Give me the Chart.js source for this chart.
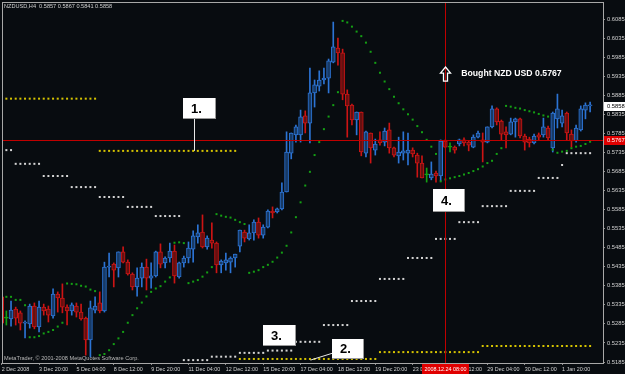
<!DOCTYPE html>
<html>
<head>
<meta charset="utf-8">
<title>NZDUSD,H4</title>
<script src="https://cdn.jsdelivr.net/npm/chart.js@4.4.1/dist/chart.umd.min.js"></script>
<style>
  html, body { margin: 0; padding: 0; background: #080c10; }
  canvas { display: block; }
</style>
</head>
<body>
<canvas id="grafico" width="625" height="374"></canvas>
<script>
const priceTicks = [0.5185, 0.5235, 0.5285, 0.5335, 0.5385, 0.5435, 0.5485, 0.5535, 0.5585, 0.5635,
  0.5685, 0.5735, 0.5785, 0.5835, 0.5885, 0.5935, 0.5985, 0.6035, 0.6085];
const timeTickBars = [0, 8, 16, 24, 32, 40, 48, 56, 64, 72, 80, 88, 96, 104, 112, 120];
const timeLabels = ["2 Dec 2008", "3 Dec 20:00", "5 Dec 04:00", "8 Dec 12:00", "9 Dec 20:00", "11 Dec 04:00",
  "12 Dec 12:00", "15 Dec 20:00", "17 Dec 04:00", "18 Dec 12:00", "19 Dec 20:00", "23 Dec 04:00",
  "24 Dec 12:00", "29 Dec 04:00", "30 Dec 12:00", "1 Jan 20:00"];

// velas H4, una por barra
const open = [
  0.5356, 0.5300, 0.5298, 0.5324, 0.5314, 0.5287, 0.5285, 0.5332, 0.5277, 0.5329,
  0.5324, 0.5306, 0.5363, 0.5353, 0.5329, 0.5319, 0.5332, 0.5316, 0.5300, 0.5243,
  0.5321, 0.5340, 0.5319, 0.5434, 0.5442, 0.5432, 0.5474, 0.5447, 0.5416, 0.5382,
  0.5405, 0.5434, 0.5405, 0.5411, 0.5474, 0.5445, 0.5458, 0.5476, 0.5408, 0.5445,
  0.5458, 0.5481, 0.5513, 0.5526, 0.5487, 0.5505, 0.5497, 0.5440, 0.5445, 0.5447,
  0.5458, 0.5489, 0.5526, 0.5508, 0.5524, 0.5552, 0.5518, 0.5539, 0.5581, 0.5579,
  0.5587, 0.5631, 0.5733, 0.5781, 0.5781, 0.5831, 0.5812, 0.5891, 0.5909, 0.5925,
  0.5930, 0.5972, 0.6009, 0.5996, 0.5888, 0.5859, 0.5820, 0.5841, 0.5733, 0.5786,
  0.5741, 0.5768, 0.5762, 0.5794, 0.5747, 0.5726, 0.5733, 0.5733, 0.5741, 0.5728,
  0.5707, 0.5676, 0.5668, 0.5681, 0.5673, 0.5765, 0.5749, 0.5749, 0.5757, 0.5768,
  0.5762, 0.5749, 0.5775, 0.5768, 0.5762, 0.5802, 0.5849, 0.5817, 0.5789, 0.5783,
  0.5815, 0.5823, 0.5778, 0.5770, 0.5760, 0.5781, 0.5781, 0.5799, 0.5747, 0.5823,
  0.5812, 0.5838, 0.5783, 0.5765, 0.5794, 0.5846, 0.5857
];
const high = [
  0.5358, 0.5319, 0.5345, 0.5329, 0.5319, 0.5293, 0.5337, 0.5340, 0.5345, 0.5337,
  0.5332, 0.5377, 0.5369, 0.5390, 0.5335, 0.5340, 0.5340, 0.5337, 0.5303, 0.5345,
  0.5356, 0.5369, 0.5447, 0.5471, 0.5445, 0.5474, 0.5487, 0.5453, 0.5419, 0.5432,
  0.5445, 0.5455, 0.5445, 0.5476, 0.5495, 0.5461, 0.5497, 0.5492, 0.5447, 0.5463,
  0.5500, 0.5529, 0.5545, 0.5571, 0.5516, 0.5550, 0.5500, 0.5453, 0.5471, 0.5461,
  0.5468, 0.5531, 0.5531, 0.5545, 0.5558, 0.5563, 0.5545, 0.5584, 0.5592, 0.5589,
  0.5655, 0.5789, 0.5786, 0.5807, 0.5846, 0.5844, 0.5956, 0.5925, 0.5949, 0.5956,
  0.5980, 0.6077, 0.6035, 0.6006, 0.5899, 0.5862, 0.5841, 0.5841, 0.5791, 0.5786,
  0.5770, 0.5789, 0.5799, 0.5812, 0.5749, 0.5775, 0.5789, 0.5786, 0.5747, 0.5733,
  0.5726, 0.5694, 0.5710, 0.5686, 0.5768, 0.5768, 0.5760, 0.5752, 0.5770, 0.5773,
  0.5765, 0.5781, 0.5791, 0.5786, 0.5802, 0.5857, 0.5852, 0.5820, 0.5802, 0.5825,
  0.5825, 0.5825, 0.5783, 0.5775, 0.5783, 0.5786, 0.5825, 0.5804, 0.5841, 0.5888,
  0.5846, 0.5841, 0.5794, 0.5807, 0.5857, 0.5865, 0.5867
];
const low = [
  0.5279, 0.5282, 0.5279, 0.5282, 0.5269, 0.5248, 0.5274, 0.5272, 0.5264, 0.5308,
  0.5290, 0.5300, 0.5316, 0.5314, 0.5282, 0.5308, 0.5303, 0.5295, 0.5203, 0.5198,
  0.5314, 0.5314, 0.5316, 0.5408, 0.5382, 0.5408, 0.5445, 0.5413, 0.5374, 0.5358,
  0.5382, 0.5374, 0.5379, 0.5408, 0.5432, 0.5432, 0.5447, 0.5392, 0.5405, 0.5434,
  0.5445, 0.5447, 0.5497, 0.5484, 0.5481, 0.5484, 0.5419, 0.5419, 0.5426, 0.5419,
  0.5434, 0.5474, 0.5500, 0.5505, 0.5505, 0.5510, 0.5510, 0.5537, 0.5563, 0.5576,
  0.5584, 0.5631, 0.5718, 0.5762, 0.5762, 0.5786, 0.5760, 0.5854, 0.5896, 0.5915,
  0.5891, 0.5970, 0.5964, 0.5873, 0.5775, 0.5807, 0.5781, 0.5726, 0.5723, 0.5707,
  0.5728, 0.5754, 0.5752, 0.5733, 0.5723, 0.5707, 0.5715, 0.5702, 0.5723, 0.5670,
  0.5668, 0.5657, 0.5663, 0.5657, 0.5660, 0.5747, 0.5736, 0.5733, 0.5752, 0.5752,
  0.5739, 0.5747, 0.5773, 0.5710, 0.5760, 0.5799, 0.5807, 0.5768, 0.5747, 0.5781,
  0.5775, 0.5773, 0.5741, 0.5749, 0.5757, 0.5768, 0.5775, 0.5768, 0.5736, 0.5799,
  0.5802, 0.5768, 0.5749, 0.5762, 0.5791, 0.5823, 0.5841
];
const close = [
  0.5287, 0.5300, 0.5321, 0.5300, 0.5287, 0.5290, 0.5332, 0.5277, 0.5329, 0.5319,
  0.5308, 0.5363, 0.5353, 0.5329, 0.5319, 0.5335, 0.5316, 0.5298, 0.5243, 0.5327,
  0.5332, 0.5319, 0.5434, 0.5437, 0.5426, 0.5474, 0.5447, 0.5416, 0.5382, 0.5405,
  0.5434, 0.5405, 0.5411, 0.5474, 0.5442, 0.5458, 0.5476, 0.5411, 0.5445, 0.5458,
  0.5484, 0.5516, 0.5524, 0.5487, 0.5510, 0.5497, 0.5440, 0.5450, 0.5453, 0.5458,
  0.5468, 0.5531, 0.5510, 0.5524, 0.5552, 0.5518, 0.5539, 0.5581, 0.5576, 0.5587,
  0.5631, 0.5736, 0.5786, 0.5802, 0.5828, 0.5812, 0.5891, 0.5912, 0.5925, 0.5930,
  0.5975, 0.6012, 0.5996, 0.5888, 0.5857, 0.5820, 0.5841, 0.5736, 0.5789, 0.5747,
  0.5757, 0.5760, 0.5791, 0.5747, 0.5728, 0.5736, 0.5739, 0.5741, 0.5731, 0.5707,
  0.5668, 0.5676, 0.5678, 0.5673, 0.5765, 0.5749, 0.5749, 0.5741, 0.5768, 0.5760,
  0.5754, 0.5775, 0.5786, 0.5762, 0.5802, 0.5849, 0.5815, 0.5783, 0.5781, 0.5815,
  0.5823, 0.5778, 0.5762, 0.5760, 0.5778, 0.5775, 0.5802, 0.5773, 0.5838, 0.5849,
  0.5831, 0.5786, 0.5765, 0.5799, 0.5849, 0.5859, 0.5858
];

// Parabolic SAR
const sar = [
  0.5372, 0.5356, 0.5356, 0.5348, 0.5348, 0.5334, 0.5250, 0.5250, 0.5253, 0.5260,
  0.5264, 0.5269, 0.5278, 0.5288, 0.5391, 0.5390, 0.5389, 0.5385, 0.5383, 0.5375,
  0.5371, 0.5203, 0.5206, 0.5216, 0.5232, 0.5247, 0.5264, 0.5288, 0.5308, 0.5326,
  0.5341, 0.5357, 0.5369, 0.5378, 0.5384, 0.5396, 0.5407, 0.5498, 0.5499, 0.5497,
  0.5392, 0.5396, 0.5400, 0.5409, 0.5420, 0.5434, 0.5573, 0.5569, 0.5566, 0.5564,
  0.5558, 0.5552, 0.5547, 0.5419, 0.5422, 0.5426, 0.5434, 0.5440, 0.5448, 0.5459,
  0.5472, 0.5490, 0.5525, 0.5565, 0.5604, 0.5648, 0.5684, 0.5728, 0.5762, 0.5796,
  0.5829, 0.5859, 0.5893, 0.6080, 0.6076, 0.6065, 0.6052, 0.6040, 0.6023, 0.5999,
  0.5970, 0.5944, 0.5921, 0.5901, 0.5881, 0.5864, 0.5848, 0.5835, 0.5821, 0.5804,
  0.5788, 0.5768, 0.5750, 0.5731, 0.5659, 0.5664, 0.5667, 0.5670, 0.5673, 0.5677,
  0.5681, 0.5686, 0.5691, 0.5698, 0.5707, 0.5713, 0.5731, 0.5746, 0.5857, 0.5855,
  0.5852, 0.5850, 0.5846, 0.5843, 0.5840, 0.5836, 0.5832, 0.5829, 0.5742, 0.5734,
  0.5737, 0.5739, 0.5746, 0.5750, 0.5752, 0.5757, 0.5763
];

// niveles diarios (puntos blancos) y semanales (puntos amarillos)
const dayFirst = [0, 3, 9, 15, 21, 27, 33, 39, 45, 51, 57, 63, 69, 75, 81, 87, 93, 98, 103, 109, 115, 120, 121];
const dayLast = [2, 8, 14, 20, 26, 32, 38, 44, 50, 56, 62, 68, 74, 80, 86, 92, 97, 102, 108, 114, 119, 120, 126];
const dayLevel = [0.5741, 0.5705, 0.5673, 0.5644, 0.5618, 0.5592, 0.5568, 0.5190, 0.5199, 0.5209, 0.5215,
  0.5238, 0.5282, 0.5345, 0.5403, 0.5458, 0.5508, 0.5552, 0.5594, 0.5634, 0.5668, 0.5702, 0.5733];
const weekFirst = [0, 21, 51, 81, 103];
const weekLast = [20, 50, 80, 102, 126];
const weekLevel = [0.5876, 0.5739, 0.5193, 0.5211, 0.5227];

const entryPrice = 0.5767;
const entryBar = 95;
const lastPrice = 0.5858;

// rango visible de la ventana
const xMin = 0.28, xMax = 128.76;
const yMin = 0.51824, yMax = 0.6127;

// cajas de texto puestas sobre el grafico (barra, precio)
const notas = [
  { texto: "1.", b0: 38.8, b1: 45.9, p0: 0.5878, p1: 0.5823 },
  { texto: "2.", b0: 70.7, b1: 77.6, p0: 0.5245, p1: 0.5193 },
  { texto: "3.", b0: 55.95, b1: 63.0, p0: 0.5282, p1: 0.5227 },
  { texto: "4.", b0: 92.4, b1: 99.2, p0: 0.5639, p1: 0.5579 }
];
const guias = [
  { b0: 41.2, p0: 0.5823, b1: 41.2, p1: 0.5739 },
  { b0: 71.0, p0: 0.5209, b1: 66.0, p1: 0.5190 }
];

const fuente = '"Liberation Sans", Arial, sans-serif';

function colorVela(i, borde) {
  if (close[i] > open[i]) return borde ? "#2c74d4" : "#173a66";
  if (close[i] < open[i]) return borde ? "#cc1414" : "#661010";
  return "#12a012";
}

function escalones(first, last, level) {
  const pts = [];
  level.forEach((v, k) => {
    for (let i = first[k]; i <= last[k]; i++) pts.push({ x: i, y: v });
  });
  return pts;
}

const cuerpos = open.map((o, i) => ({ x: i, y: [o, close[i]] }));
const mechas = low.map((l, i) => ({ x: i, y: [l, high[i]] }));
const puntosSar = sar.map((v, i) => ({ x: i, y: v }));

function puntos(data, color) {
  return {
    type: "line",
    data,
    showLine: false,
    pointStyle: "rect",
    pointRadius: 1.42,
    pointBorderWidth: 0,
    pointBackgroundColor: color
  };
}

const extras = {
  id: "extras",
  beforeDraw(chart) {
    const { ctx, width, height } = chart;
    ctx.save();
    ctx.fillStyle = "#080c10";
    ctx.fillRect(0, 0, width, height);
    ctx.restore();
  },
  afterDatasetsDraw(chart) {
    const { ctx, chartArea: a, scales: { x, y } } = chart;
    ctx.save();
    ctx.beginPath();
    ctx.rect(a.left, a.top, a.width, a.height);
    ctx.clip();

    // linea de entrada y linea vertical
    ctx.strokeStyle = "#c00000";
    ctx.lineWidth = 1;
    const yl = Math.round(y.getPixelForValue(entryPrice)) + 0.5;
    ctx.beginPath(); ctx.moveTo(a.left, yl); ctx.lineTo(a.right, yl); ctx.stroke();
    const xl = Math.round(x.getPixelForValue(entryBar)) + 0.5;
    ctx.beginPath(); ctx.moveTo(xl, a.top); ctx.lineTo(xl, a.bottom); ctx.stroke();

    // flecha de compra
    const ty = y.getPixelForValue(0.5959), by = y.getPixelForValue(0.5922);
    ctx.strokeStyle = "#ffffff";
    ctx.lineWidth = 1.3;
    ctx.beginPath();
    ctx.moveTo(xl, ty);
    ctx.lineTo(xl + 5, ty + 6);
    ctx.lineTo(xl + 2, ty + 6);
    ctx.lineTo(xl + 2, by);
    ctx.lineTo(xl - 2, by);
    ctx.lineTo(xl - 2, ty + 6);
    ctx.lineTo(xl - 5, ty + 6);
    ctx.closePath();
    ctx.stroke();

    ctx.fillStyle = "#ffffff";
    ctx.font = "bold 8.7px " + fuente;
    ctx.textBaseline = "middle";
    ctx.fillText("Bought NZD USD " + entryPrice.toFixed(4), x.getPixelForValue(98.4), y.getPixelForValue(0.5941));

    // guias blancas
    ctx.strokeStyle = "#e8e8e8";
    ctx.lineWidth = 1;
    guias.forEach(g => {
      ctx.beginPath();
      ctx.moveTo(Math.round(x.getPixelForValue(g.b0)) + 0.5, y.getPixelForValue(g.p0));
      ctx.lineTo(Math.round(x.getPixelForValue(g.b1)) + 0.5, y.getPixelForValue(g.p1));
      ctx.stroke();
    });

    // cajas numeradas
    notas.forEach(n => {
      const x0 = Math.round(x.getPixelForValue(n.b0)), x1 = Math.round(x.getPixelForValue(n.b1));
      const y0 = Math.round(y.getPixelForValue(n.p0)), y1 = Math.round(y.getPixelForValue(n.p1));
      ctx.fillStyle = "#ffffff";
      ctx.fillRect(x0, y0, x1 - x0, y1 - y0);
      ctx.fillStyle = "#9a9a9a";
      ctx.fillRect(x1 - 1, y0, 1, y1 - y0);
      ctx.fillRect(x0, y1 - 1, x1 - x0, 1);
      ctx.fillStyle = "#000000";
      ctx.font = "bold 13px " + fuente;
      ctx.fillText(n.texto, x0 + 8, (y0 + y1) / 2 + 0.5);
    });
    ctx.restore();
  },
  afterDraw(chart) {
    const { ctx, chartArea: a, scales: { x, y }, width } = chart;
    ctx.save();
    ctx.strokeStyle = "#a8a8a8";
    ctx.lineWidth = 1;
    ctx.strokeRect(a.left - 0.5, a.top - 0.5, a.width + 1, a.height + 1);

    ctx.textBaseline = "middle";
    ctx.font = "5.6px " + fuente;
    ctx.fillStyle = "#d0d0d0";
    ctx.fillText("NZDUSD,H4  " + [open[126], high[126], low[126], close[126]].map(v => v.toFixed(4)).join(" "), 4, 6);
    ctx.fillStyle = "#b8b8b8";
    ctx.fillText("MetaTrader, \u00a9 2001-2008 MetaQuotes Software Corp.", 4, 358.5);

    // etiquetas de precio en el eje
    ctx.font = "5.8px " + fuente;
    const ye = Math.round(y.getPixelForValue(entryPrice));
    ctx.fillStyle = "#e00000";
    ctx.fillRect(a.right + 1, ye - 4, width - a.right - 1, 9);
    ctx.fillStyle = "#ffffff";
    ctx.fillText(entryPrice.toFixed(4), a.right + 4, ye + 0.5);

    const yc = Math.round(y.getPixelForValue(lastPrice));
    ctx.fillStyle = "#ffffff";
    ctx.fillRect(a.right + 1, yc - 4, width - a.right - 1, 9);
    ctx.fillStyle = "#000000";
    ctx.fillText(lastPrice.toFixed(4), a.right + 4, yc + 0.5);

    // etiqueta de fecha del cursor
    const xc = Math.round(x.getPixelForValue(entryBar));
    ctx.font = "5.4px " + fuente;
    ctx.fillStyle = "#e00000";
    ctx.fillRect(xc - 23, a.bottom + 1, 47, 10);
    ctx.fillStyle = "#ffffff";
    ctx.textAlign = "center";
    ctx.fillText("2008.12.24 08:00", xc + 0.5, a.bottom + 6.5);
    ctx.restore();
  }
};

const ctx = document.getElementById("grafico").getContext("2d");

new Chart(ctx, {
  type: "bar",
  data: {
    datasets: [
      puntos(puntosSar, "#14a014"),
      puntos(escalones(dayFirst, dayLast, dayLevel), "#d4d4d4"),
      puntos(escalones(weekFirst, weekLast, weekLevel), "#d6c400"),
      {
        type: "bar",
        data: cuerpos,
        grouped: false,
        barThickness: 4,
        borderWidth: 1,
        borderSkipped: false,
        minBarLength: 1,
        backgroundColor: c => colorVela(c.dataIndex, false),
        borderColor: c => colorVela(c.dataIndex, true)
      },
      {
        type: "bar",
        data: mechas,
        grouped: false,
        barThickness: 1,
        borderWidth: 0,
        backgroundColor: c => colorVela(c.dataIndex, true)
      }
    ]
  },
  options: {
    responsive: false,
    animation: false,
    devicePixelRatio: 1,
    layout: { padding: { left: 3, top: 3, right: 0, bottom: 0 }, autoPadding: false },
    plugins: {
      legend: { display: false },
      tooltip: { enabled: false }
    },
    scales: {
      x: {
        type: "linear",
        min: xMin,
        max: xMax,
        bounds: "data",
        offset: false,
        afterBuildTicks: s => { s.ticks = timeTickBars.map(v => ({ value: v })); },
        afterFit: s => { s.height = 11; s.paddingLeft = 0; s.paddingRight = 0; },
        grid: { drawOnChartArea: false, offset: false, tickLength: 2, color: "#8c8c8c" },
        border: { display: false },
        ticks: {
          align: "start",
          autoSkip: false,
          maxRotation: 0,
          padding: 1,
          color: "#d0d0d0",
          font: { size: 5.4, family: fuente },
          callback: (v, i) => timeLabels[i]
        }
      },
      y: {
        type: "linear",
        position: "right",
        min: yMin,
        max: yMax,
        bounds: "data",
        afterBuildTicks: s => { s.ticks = priceTicks.map(v => ({ value: v })); },
        afterFit: s => { s.width = 22; s.paddingTop = 0; s.paddingBottom = 0; },
        grid: { drawOnChartArea: false, tickLength: 2, color: "#8c8c8c" },
        border: { display: false },
        ticks: {
          padding: 2,
          color: "#d0d0d0",
          font: { size: 5.8, family: fuente },
          callback: v => v.toFixed(4)
        }
      }
    }
  },
  plugins: [extras]
});
</script>
</body>
</html>
